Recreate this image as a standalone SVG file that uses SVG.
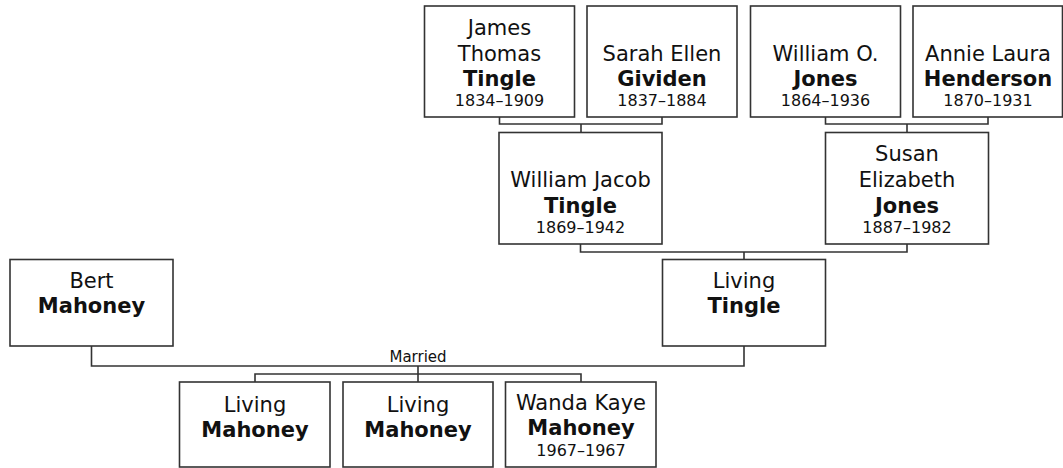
<svg xmlns="http://www.w3.org/2000/svg" width="1063" height="468" viewBox="0 0 1063 468">
<style>
.box{fill:#fff;stroke:#333;stroke-width:1.6}
.ln{fill:none;stroke:#333;stroke-width:1.6}
text{font-family:"DejaVu Sans","Verdana",sans-serif;fill:#111;text-anchor:middle}
.n{font-size:21px}
.b{font-size:21px;font-weight:bold}
.d{font-size:16px}
.m{font-size:15px}
</style>
<rect width="1063" height="468" fill="#fff"/>
<g id="connectors">
<path class="ln" d="M499.5,117 V124 H662 V117 M581,124 V132"/>
<path class="ln" d="M825.5,117 V124 H988 V117 M907,124 V132"/>
<path class="ln" d="M580.5,244 V252 H907 V244 M744,252 V260"/>
<path class="ln" d="M91.5,346 V366 H744 V346 M418,366 V374 M255,382 V374 H581 V382 M418,374 V382"/>
<text class="m" x="418" y="361.5">Married</text>
</g>
<g id="james-thomas-tingle">
<rect class="box" x="424.5" y="6" width="150" height="111"/>
<text class="n" x="499.5" y="35">James</text>
<text class="n" x="499.5" y="60.5">Thomas</text>
<text class="b" x="499.5" y="86">Tingle</text>
<text class="d" x="499.5" y="106">1834–1909</text>
</g>
<g id="sarah-ellen-gividen">
<rect class="box" x="587" y="6" width="150" height="111"/>
<text class="n" x="662" y="60.5">Sarah Ellen</text>
<text class="b" x="662" y="86">Gividen</text>
<text class="d" x="662" y="106">1837–1884</text>
</g>
<g id="william-o-jones">
<rect class="box" x="750.5" y="6" width="150" height="111"/>
<text class="n" x="825.5" y="60.5">William O.</text>
<text class="b" x="825.5" y="86">Jones</text>
<text class="d" x="825.5" y="106">1864–1936</text>
</g>
<g id="annie-laura-henderson">
<rect class="box" x="913" y="6" width="149.5" height="111"/>
<text class="n" x="988" y="60.5">Annie Laura</text>
<text class="b" x="988" y="86">Henderson</text>
<text class="d" x="988" y="106">1870–1931</text>
</g>
<g id="william-jacob-tingle">
<rect class="box" x="499" y="132.5" width="163" height="111.5"/>
<text class="n" x="580.5" y="186.5">William Jacob</text>
<text class="b" x="580.5" y="212.5">Tingle</text>
<text class="d" x="580.5" y="233">1869–1942</text>
</g>
<g id="susan-elizabeth-jones">
<rect class="box" x="825.5" y="132.5" width="163" height="111.5"/>
<text class="n" x="907" y="160.5">Susan</text>
<text class="n" x="907" y="186.5">Elizabeth</text>
<text class="b" x="907" y="212.5">Jones</text>
<text class="d" x="907" y="233">1887–1982</text>
</g>
<g id="bert-mahoney">
<rect class="box" x="10" y="259.5" width="163" height="86.5"/>
<text class="n" x="91.5" y="288">Bert</text>
<text class="b" x="91.5" y="313">Mahoney</text>
</g>
<g id="living-tingle">
<rect class="box" x="662.5" y="259.5" width="163" height="86.5"/>
<text class="n" x="744" y="288">Living</text>
<text class="b" x="744" y="313">Tingle</text>
</g>
<g id="living-mahoney-1">
<rect class="box" x="179.5" y="382" width="150.5" height="85"/>
<text class="n" x="255" y="411.5">Living</text>
<text class="b" x="255" y="437">Mahoney</text>
</g>
<g id="living-mahoney-2">
<rect class="box" x="343" y="382" width="150" height="85"/>
<text class="n" x="418" y="411.5">Living</text>
<text class="b" x="418" y="437">Mahoney</text>
</g>
<g id="wanda-kaye-mahoney">
<rect class="box" x="505.5" y="382" width="150.5" height="85"/>
<text class="n" x="581" y="409.5">Wanda Kaye</text>
<text class="b" x="581" y="434.5">Mahoney</text>
<text class="d" x="581" y="455.5">1967–1967</text>
</g>
</svg>
